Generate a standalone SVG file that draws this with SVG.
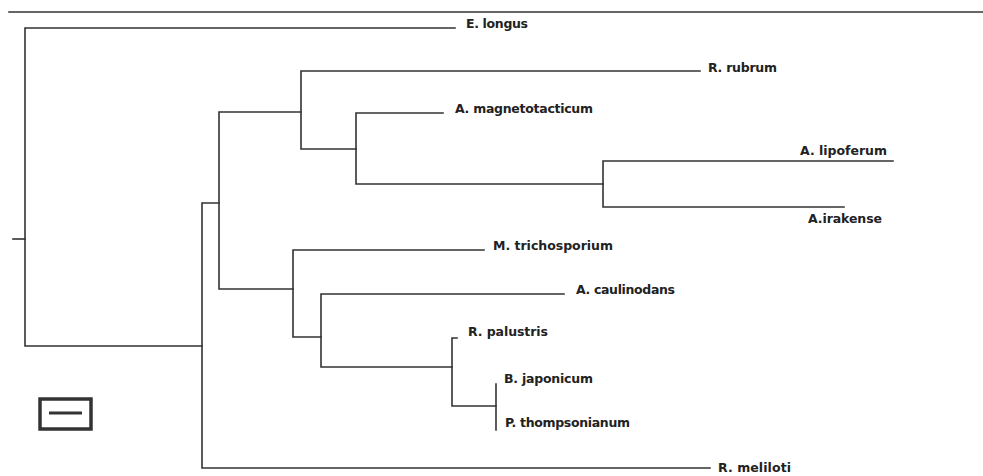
<svg xmlns="http://www.w3.org/2000/svg" width="983" height="476" viewBox="0 0 983 476">
<style>
.ln{fill:none;stroke:#333;stroke-width:1.6;stroke-linecap:square}
.lb{font-family:"DejaVu Sans","Liberation Sans",sans-serif;font-weight:bold;font-size:12.5px;fill:#222}
</style>
<rect width="983" height="476" fill="#fff"/>
<g id="frame"><path class="ln" d="M9 12H983"/></g>
<g id="connectors">
<path class="ln" d="M13 239H25"/>
<path class="ln" d="M455 28H25V346H202"/>
<path class="ln" d="M219 203H202V468H710"/>
<path class="ln" d="M301 112H219V289H293"/>
<path class="ln" d="M700 71H301V149H356"/>
<path class="ln" d="M443 113H356V184H603"/>
<path class="ln" d="M893 161H603V207H844"/>
<path class="ln" d="M484 250H293V337H321"/>
<path class="ln" d="M564 294H321V367H452"/>
<path class="ln" d="M457 338H452V406H496"/>
<path class="ln" d="M496 384V430"/>
</g>
<g id="n-elongus"><text class="lb" x="466" y="28" textLength="62">E. longus</text></g>
<g id="n-rrubrum"><text class="lb" x="708" y="72" textLength="69">R. rubrum</text></g>
<g id="n-amagnetotacticum"><text class="lb" x="455" y="113" textLength="138">A. magnetotacticum</text></g>
<g id="n-alipoferum"><text class="lb" x="800" y="155" textLength="87">A. lipoferum</text></g>
<g id="n-airakense"><text class="lb" x="808" y="223" textLength="74">A.irakense</text></g>
<g id="n-mtrichosporium"><text class="lb" x="493" y="250" textLength="120">M. trichosporium</text></g>
<g id="n-acaulinodans"><text class="lb" x="576" y="294" textLength="99">A. caulinodans</text></g>
<g id="n-rpalustris"><text class="lb" x="468" y="336" textLength="80">R. palustris</text></g>
<g id="n-bjaponicum"><text class="lb" x="504" y="383" textLength="89">B. japonicum</text></g>
<g id="n-pthompsonianum"><text class="lb" x="505" y="427" textLength="125">P. thompsonianum</text></g>
<g id="n-rmeliloti"><text class="lb" x="718" y="472" textLength="73">R. meliloti</text></g>
<g id="scale">
<rect x="40" y="399" width="51" height="30" fill="none" stroke="#333" stroke-width="3.5"/>
<path d="M49 413H82" stroke="#333" stroke-width="3"/>
</g>
</svg>
